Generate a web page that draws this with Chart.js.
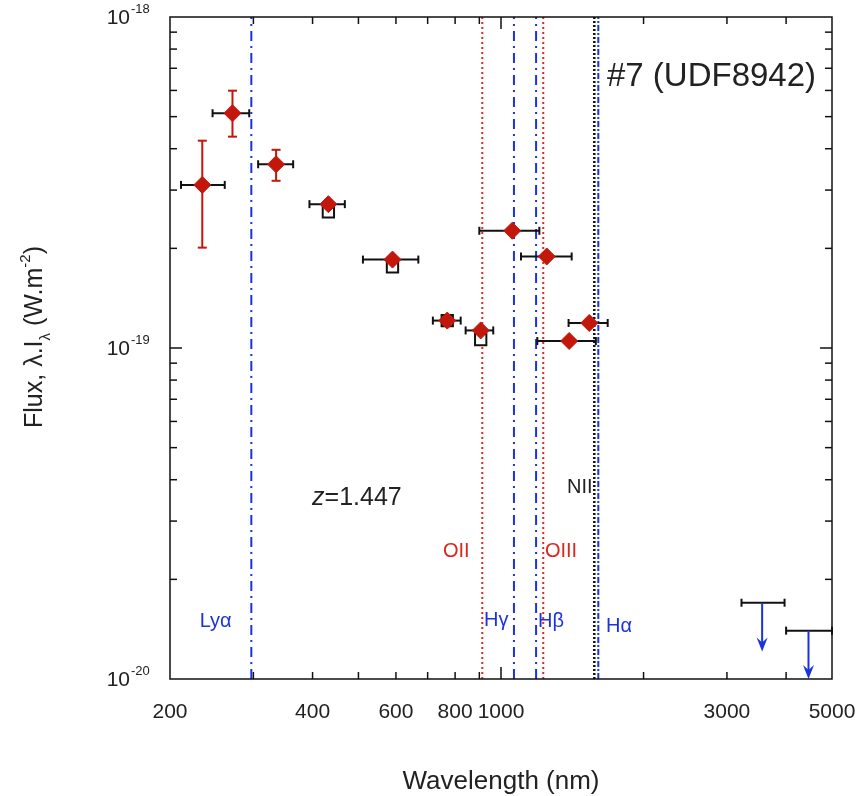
<!DOCTYPE html>
<html lang="en">

<head>
    <meta charset="UTF-8">
    <title>#7 (UDF8942)</title>
    <style>
        html, body { margin: 0; padding: 0; background: #fff; }
        .zone { width: 857px; height: 796px; position: relative; }
    </style>
</head>

<body>
    <div class="zone">
        <canvas id="sed"></canvas>
    </div>

    <script src="https://cdn.jsdelivr.net/npm/chart.js"></script>
    <script>
        // photometry, wavelength in nm, flux in W.m-2
        const wavelength = [234, 271, 335, 432, 590, 770, 906, 1056, 1249, 1536, 1393];
        const flux = [3.11e-19, 5.12e-19, 3.59e-19, 2.72e-19, 1.85e-19, 1.21e-19, 1.13e-19, 2.26e-19, 1.89e-19, 1.19e-19, 1.05e-19];
        const waveLow = [211, 246, 307, 394, 511, 718, 842, 900, 1102, 1389, 1193];
        const waveHigh = [261, 294, 364, 468, 669, 822, 963, 1205, 1410, 1680, 1586];
        const fluxLow = [2.01e-19, 4.35e-19, 3.20e-19];
        const fluxHigh = [4.23e-19, 5.99e-19, 3.97e-19];

        // model (open squares)
        const modelWave = [432, 590, 770, 906];
        const modelFlux = [2.58e-19, 1.76e-19, 1.21e-19, 1.06e-19];

        // upper limits
        const limitWave = [3560, 4460];
        const limitFlux = [1.70e-20, 1.40e-20];
        const limitLow = [3220, 4000];
        const limitHigh = [3970, 5000];
        const limitTip = [1.21e-20, 1.0e-20];

        // emission lines at z = 1.447
        const lineNames = ['Lyα', 'OII', 'Hγ', 'Hβ', 'OIII', 'NII', 'Hα'];
        const lineWave = [297, 913, 1065, 1186, 1228, 1574, 1605];

        // axes
        const xTicks = [200, 300, 400, 500, 600, 700, 800, 900, 1000, 2000, 3000, 4000, 5000];
        const xLabels = [200, 400, 600, 800, 1000, 3000, 5000];
        const yDecades = [1e-20, 1e-19, 1e-18];
        const yExponents = ['-20', '-19', '-18'];

        const FONT = '"Liberation Sans", Arial, Helvetica, sans-serif';
        const INK = '#222';
        const RED = '#c3170b';
        const BLUE = '#1b32e0';

        const lineStyle = {
            'Lyα': { color: BLUE, dash: [10, 5, 2, 5], width: 2 },
            'OII': { color: '#e02a20', dash: [2, 3], width: 2 },
            'Hγ': { color: BLUE, dash: [10, 5, 2, 5], width: 2 },
            'Hβ': { color: BLUE, dash: [10, 5, 2, 5], width: 2 },
            'OIII': { color: '#e02a20', dash: [2, 3], width: 2 },
            'NII': { color: '#111', dash: [2, 2], width: 2.5 },
            'Hα': { color: BLUE, dash: [6, 2, 2, 2], width: 2 }
        };

        // text notes, placed in data coordinates
        const notes = [
            { text: 'Lyα', x: 231, y: 1.49e-20, color: BLUE, size: 20 },
            { text: 'OII', x: 754, y: 2.42e-20, color: '#d8281e', size: 20 },
            { text: 'OIII', x: 1238, y: 2.42e-20, color: '#d8281e', size: 20 },
            { text: 'NII', x: 1378, y: 3.80e-20, color: INK, size: 20 },
            { text: 'Hγ', x: 921, y: 1.50e-20, color: BLUE, size: 20 },
            { text: 'Hβ', x: 1197, y: 1.49e-20, color: BLUE, size: 20 },
            { text: 'Hα', x: 1666, y: 1.44e-20, color: BLUE, size: 20 }
        ];

        const lineDatasets = lineNames.map((name, i) => ({
            label: name,
            data: [{ x: lineWave[i], y: yDecades[0] }, { x: lineWave[i], y: yDecades[2] }],
            showLine: true,
            borderColor: lineStyle[name].color,
            borderWidth: lineStyle[name].width,
            borderDash: lineStyle[name].dash,
            pointRadius: 0,
            order: 5
        }));

        function seg(ctx, x1, y1, x2, y2) {
            ctx.beginPath();
            ctx.moveTo(x1, y1);
            ctx.lineTo(x2, y2);
            ctx.stroke();
        }

        // error bars + upper limits, drawn just under the squares
        const errorBars = {
            id: 'errorBars',
            beforeDatasetDraw(chart, args) {
                if (args.index !== 1) return;
                const { ctx, scales: { x, y } } = chart;
                ctx.save();
                ctx.lineWidth = 2;
                ctx.strokeStyle = RED;
                fluxLow.forEach((lo, i) => {
                    const px = x.getPixelForValue(wavelength[i]);
                    const y1 = y.getPixelForValue(lo);
                    const y2 = y.getPixelForValue(fluxHigh[i]);
                    seg(ctx, px, y1, px, y2);
                    seg(ctx, px - 4.5, y1, px + 4.5, y1);
                    seg(ctx, px - 4.5, y2, px + 4.5, y2);
                });
                ctx.strokeStyle = '#111';
                wavelength.forEach((w, i) => {
                    const py = y.getPixelForValue(flux[i]);
                    const x1 = x.getPixelForValue(waveLow[i]);
                    const x2 = x.getPixelForValue(waveHigh[i]);
                    seg(ctx, x1, py, x2, py);
                    seg(ctx, x1, py - 4, x1, py + 4);
                    seg(ctx, x2, py - 4, x2, py + 4);
                });
                limitWave.forEach((w, i) => {
                    const py = y.getPixelForValue(limitFlux[i]);
                    const x1 = x.getPixelForValue(limitLow[i]);
                    const x2 = x.getPixelForValue(limitHigh[i]);
                    ctx.strokeStyle = '#111';
                    seg(ctx, x1, py, x2, py);
                    seg(ctx, x1, py - 4, x1, py + 4);
                    seg(ctx, x2, py - 4, x2, py + 4);
                    const px = x.getPixelForValue(w);
                    const tip = y.getPixelForValue(limitTip[i]);
                    ctx.strokeStyle = BLUE;
                    seg(ctx, px, py, px, tip - 6);
                    ctx.fillStyle = BLUE;
                    ctx.beginPath();
                    ctx.moveTo(px, tip);
                    ctx.lineTo(px - 5.5, tip - 14);
                    ctx.lineTo(px, tip - 9);
                    ctx.lineTo(px + 5.5, tip - 14);
                    ctx.closePath();
                    ctx.fill();
                });
                ctx.restore();
            }
        };

        // frame with inward ticks, y labels, titles and notes
        const frame = {
            id: 'frame',
            afterDraw(chart) {
                const { ctx, chartArea: a, scales: { x, y } } = chart;
                ctx.save();
                ctx.strokeStyle = '#111';
                ctx.lineWidth = 1.5;
                ctx.strokeRect(a.left, a.top, a.right - a.left, a.bottom - a.top);

                xTicks.forEach(v => {
                    if (v === 200 || v === 5000) return;
                    const px = x.getPixelForValue(v);
                    const len = v === 1000 ? 12 : 7;
                    seg(ctx, px, a.bottom, px, a.bottom - len);
                    seg(ctx, px, a.top, px, a.top + len);
                });
                [1e-20, 1e-19].forEach(d => {
                    for (let k = 1; k <= 9; k++) {
                        if (k === 1 && d === 1e-20) continue;
                        const py = y.getPixelForValue(k * d);
                        const len = k === 1 ? 12 : 7;
                        seg(ctx, a.left, py, a.left + len, py);
                        seg(ctx, a.right, py, a.right - len, py);
                    }
                });

                ctx.fillStyle = INK;
                ctx.textBaseline = 'alphabetic';
                yDecades.forEach((d, i) => {
                    const py = y.getPixelForValue(d);
                    ctx.font = '21px ' + FONT;
                    ctx.textAlign = 'right';
                    ctx.fillText('10', 130, py + 7);
                    ctx.font = '13px ' + FONT;
                    ctx.textAlign = 'left';
                    ctx.fillText(yExponents[i], 131, py - 4);
                });

                // x title
                ctx.font = '26px ' + FONT;
                ctx.textAlign = 'center';
                ctx.fillText('Wavelength (nm)', 501, 789);

                // y title, rotated
                ctx.save();
                ctx.translate(42, 337);
                ctx.rotate(-Math.PI / 2);
                const parts = [
                    { t: 'Flux, λ.I', s: 25, dy: 0 },
                    { t: 'λ', s: 15, dy: 8 },
                    { t: ' (W.m', s: 25, dy: 0 },
                    { t: '-2', s: 15, dy: -12 },
                    { t: ')', s: 25, dy: 0 }
                ];
                let total = 0;
                parts.forEach(p => { ctx.font = p.s + 'px ' + FONT; total += ctx.measureText(p.t).width; });
                let cx = -total / 2;
                ctx.textAlign = 'left';
                parts.forEach(p => {
                    ctx.font = p.s + 'px ' + FONT;
                    ctx.fillText(p.t, cx, p.dy);
                    cx += ctx.measureText(p.t).width;
                });
                ctx.restore();

                // line labels
                ctx.textBaseline = 'middle';
                ctx.textAlign = 'left';
                notes.forEach(n => {
                    ctx.font = n.size + 'px ' + FONT;
                    ctx.fillStyle = n.color;
                    ctx.fillText(n.text, x.getPixelForValue(n.x), y.getPixelForValue(n.y));
                });

                // redshift
                ctx.fillStyle = INK;
                ctx.font = 'italic 25px ' + FONT;
                let zx = x.getPixelForValue(399);
                const zy = y.getPixelForValue(3.52e-20);
                ctx.fillText('z', zx, zy);
                zx += ctx.measureText('z').width;
                ctx.font = '25px ' + FONT;
                ctx.fillText('=1.447', zx, zy);

                // object name
                ctx.font = '33px ' + FONT;
                ctx.fillText('#7 (UDF8942)', x.getPixelForValue(1674), y.getPixelForValue(6.59e-19));
                ctx.restore();
            }
        };

        new Chart(document.getElementById('sed'), {
            type: 'scatter',
            data: {
                datasets: [
                    {
                        label: 'Flux',
                        data: wavelength.map((w, i) => ({ x: w, y: flux[i] })),
                        pointStyle: 'rectRot',
                        pointRadius: 8.5,
                        backgroundColor: RED,
                        borderColor: RED,
                        borderWidth: 1,
                        order: 1
                    },
                    {
                        label: 'Model',
                        data: modelWave.map((w, i) => ({ x: w, y: modelFlux[i] })),
                        pointStyle: 'rect',
                        pointRadius: 8,
                        backgroundColor: '#fff',
                        borderColor: '#111',
                        borderWidth: 2,
                        order: 2
                    },
                    ...lineDatasets
                ]
            },
            options: {
                responsive: true,
                maintainAspectRatio: false,
                animation: false,
                layout: { padding: { top: 17, right: 25, left: 0, bottom: 0 } },
                plugins: {
                    legend: { display: false },
                    tooltip: { enabled: false }
                },
                scales: {
                    x: {
                        type: 'logarithmic',
                        min: 200,
                        max: 5000,
                        grid: { display: false },
                        border: { display: false },
                        afterBuildTicks: s => { s.ticks = xTicks.map(v => ({ value: v })); },
                        afterFit: s => {
                            s.height = 117;
                            s.paddingLeft = 0;
                            s.paddingRight = 0;
                        },
                        ticks: {
                            autoSkip: false,
                            maxRotation: 0,
                            padding: 13,
                            color: INK,
                            font: { family: FONT, size: 21 },
                            callback: v => xLabels.includes(v) ? String(v) : ''
                        }
                    },
                    y: {
                        type: 'logarithmic',
                        min: 1e-20,
                        max: 1e-18,
                        grid: { display: false },
                        border: { display: false },
                        ticks: { display: false },
                        afterFit: s => {
                            s.width = 170;
                            s.paddingTop = 0;
                            s.paddingBottom = 0;
                        }
                    }
                }
            },
            plugins: [errorBars, frame]
        });
    </script>
</body>

</html>
